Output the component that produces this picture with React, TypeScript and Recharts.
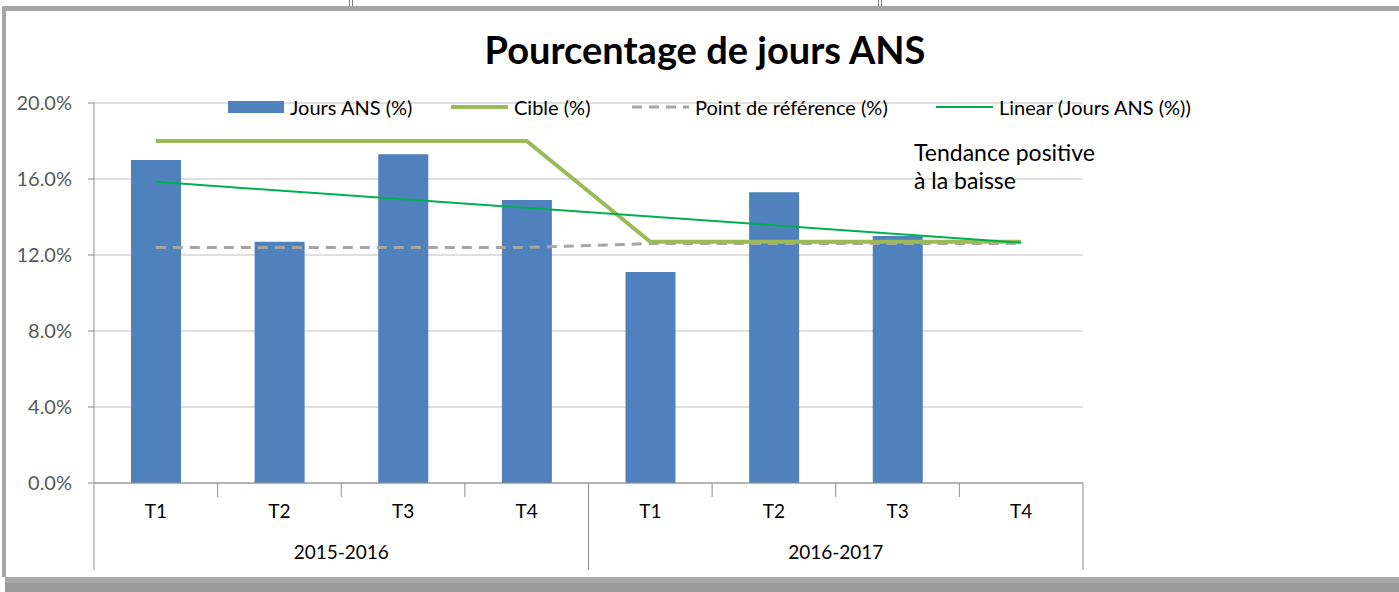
import {
  ComposedChart,
  Bar,
  Line,
  XAxis,
  YAxis,
  CartesianGrid,
  Legend,
} from "recharts";

const quarters = ["T1", "T2", "T3", "T4", "T1", "T2", "T3", "T4"];
const years = [
  "2015-2016",
  "2015-2016",
  "2015-2016",
  "2015-2016",
  "2016-2017",
  "2016-2017",
  "2016-2017",
  "2016-2017",
];
const joursAns = [17.0, 12.7, 17.3, 14.9, 11.1, 15.3, 13.0, null];
const cible = [18, 18, 18, 18, 12.7, 12.7, 12.7, 12.7];
const reference = [12.4, 12.4, 12.4, 12.4, 12.6, 12.6, 12.6, 12.6];
// linear trend: only the two end points
const tendance = [15.85, null, null, null, null, null, null, 12.65];
const yTicks = [0, 4, 8, 12, 16, 20];

const FONT = "Lato, 'Open Sans', sans-serif";
const BLUE = "#4F81BD";
const OLIVE = "#9BBB59";
const GREY = "#A6A6A6";
const TREND = "#00B050";
const AXIS = "#8C8C8C";

const data = quarters.map((q, i) => ({
  key: `${years[i]} ${q}`,
  quarter: q,
  year: years[i],
  jours: joursAns[i],
  cible: cible[i],
  reference: reference[i],
  tendance: tendance[i],
}));

function QuarterTick(props: any) {
  const { x, y, payload } = props;
  const i = payload.index;
  const row = data[i];
  const half = payload.offset ?? 61.8;
  const left = x - half;
  const groupStart = row.quarter === "T1";
  const last = i === data.length - 1;
  return (
    <g>
      <line
        x1={left}
        x2={left}
        y1={y}
        y2={groupStart ? y + 87 : y + 14}
        stroke={AXIS}
        strokeWidth={1}
      />
      {last && (
        <line
          x1={x + half}
          x2={x + half}
          y1={y}
          y2={y + 87}
          stroke={AXIS}
          strokeWidth={1}
        />
      )}
      <text
        x={x}
        y={y + 35}
        textAnchor="middle"
        fontSize={19}
        fontFamily={FONT}
        fill="#000"
      >
        {row.quarter}
      </text>
      {row.quarter === "T2" && (
        <text
          x={x + half}
          y={y + 76}
          textAnchor="middle"
          fontSize={19}
          fontFamily={FONT}
          fill="#000"
        >
          {row.year}
        </text>
      )}
    </g>
  );
}

function LineSwatch({ color, width, dash }: { color: string; width: number; dash?: string }) {
  return (
    <svg width={57} height={12} style={{ display: "block" }}>
      <line x1={0} x2={57} y1={6} y2={6} stroke={color} strokeWidth={width} strokeDasharray={dash} />
    </svg>
  );
}

function ChartLegend() {
  const items = [
    { left: 0, label: "Jours ANS (%)", swatch: <div style={{ width: 56, height: 12, background: BLUE }} /> },
    { left: 223, label: "Cible (%)", swatch: <LineSwatch color={OLIVE} width={4} /> },
    { left: 404, label: "Point de référence (%)", swatch: <LineSwatch color={GREY} width={3} dash="10 7" /> },
    { left: 708, label: "Linear (Jours ANS (%))", swatch: <LineSwatch color={TREND} width={2} /> },
  ];
  return (
    <div style={{ position: "relative", width: 980, height: 24, fontFamily: FONT, fontSize: 20, color: "#000" }}>
      {items.map((it) => (
        <div
          key={it.label}
          style={{ position: "absolute", left: it.left, top: 0, height: 24, display: "flex", alignItems: "center" }}
        >
          {it.swatch}
          <span style={{ marginLeft: 6, whiteSpace: "nowrap" }}>{it.label}</span>
        </div>
      ))}
    </div>
  );
}

export default function App() {
  return (
    <div
      style={{
        position: "absolute",
        left: 0,
        top: 0,
        width: 1399,
        height: 592,
        background: "#fff",
        overflow: "hidden",
        fontFamily: FONT,
      }}
    >
      {/* table lines above the chart frame */}
      <div style={{ position: "absolute", left: 349, top: 0, width: 1, height: 7, background: "#777" }} />
      <div style={{ position: "absolute", left: 352, top: 0, width: 1, height: 7, background: "#777" }} />
      <div style={{ position: "absolute", left: 878, top: 0, width: 1, height: 7, background: "#777" }} />
      <div style={{ position: "absolute", left: 881, top: 0, width: 1, height: 7, background: "#777" }} />
      {/* chart frame */}
      <div
        style={{
          position: "absolute",
          left: 2,
          top: 6,
          width: 1420,
          height: 571,
          borderTop: "5px solid #A6A6A6",
          borderLeft: "4px solid #A6A6A6",
          boxSizing: "border-box",
        }}
      />
      <div style={{ position: "absolute", left: 5, top: 577, width: 1420, height: 6, background: "#A8A8A8" }} />
      <div style={{ position: "absolute", left: 5, top: 583, width: 1420, height: 9, background: "#9A9A9A" }} />

      <div
        style={{
          position: "absolute",
          left: 0,
          right: 0,
          top: 26,
          textAlign: "center",
          paddingLeft: 11,
          fontSize: 38,
          fontWeight: 700,
          color: "#000",
        }}
      >
        Pourcentage de jours ANS
      </div>

      <div style={{ position: "absolute", left: 0, top: 0 }}>
        <ComposedChart
          width={1399}
          height={592}
          data={data}
          margin={{ top: 103, right: 316, bottom: 19, left: 34 }}
        >
          <CartesianGrid vertical={false} stroke="#BFBFBF" />
          <XAxis
            dataKey="key"
            height={90}
            interval={0}
            tickLine={false}
            tickSize={0}
            tickMargin={0}
            axisLine={{ stroke: AXIS }}
            tick={<QuarterTick />}
          />
          <YAxis
            width={60}
            domain={[0, 20]}
            ticks={yTicks}
            tickFormatter={(v: number) => `${v.toFixed(1)}%`}
            axisLine={{ stroke: AXIS }}
            tickLine={{ stroke: AXIS }}
            tickSize={6}
            tickMargin={16}
            tick={{ fontSize: 20, fontFamily: FONT, fill: "#595959" }}
          />
          <Legend
            layout="horizontal"
            verticalAlign="middle"
            align="center"
            wrapperStyle={{ position: "absolute", left: 228, top: 95, width: "auto" }}
            content={() => <ChartLegend />}
          />
          <Bar dataKey="jours" fill={BLUE} barSize={50} isAnimationActive={false} />
          <Line
            dataKey="reference"
            stroke={GREY}
            strokeWidth={3}
            strokeDasharray="10 7"
            dot={false}
            isAnimationActive={false}
          />
          <Line
            dataKey="cible"
            stroke={OLIVE}
            strokeWidth={4}
            dot={false}
            isAnimationActive={false}
          />
          <Line
            dataKey="tendance"
            stroke={TREND}
            strokeWidth={2}
            dot={false}
            connectNulls
            isAnimationActive={false}
          />
        </ComposedChart>
      </div>

      <div
        style={{
          position: "absolute",
          left: 914,
          top: 138,
          fontSize: 23,
          lineHeight: "28px",
          color: "#000",
        }}
      >
        Tendance positive
        <br />à la baisse
      </div>
    </div>
  );
}
